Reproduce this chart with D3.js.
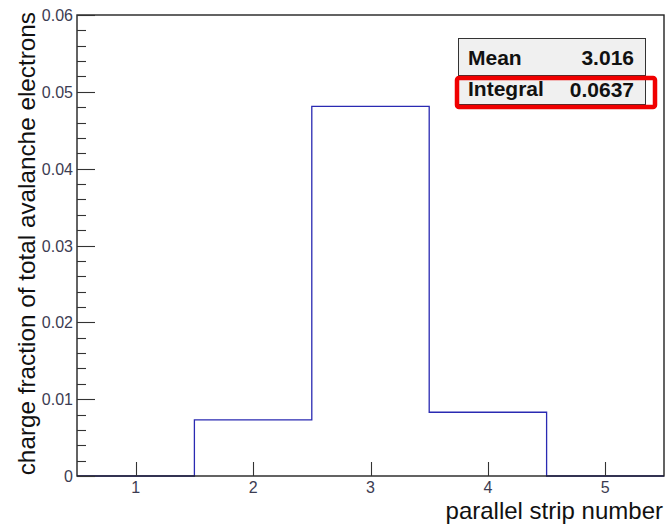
<!DOCTYPE html>
<html>
<head>
<meta charset="utf-8">
<script src="https://cdn.jsdelivr.net/npm/d3@7"></script>
<style>
  html, body { margin: 0; padding: 0; background: #fff; }
  svg { display: block; font-family: Arial, "Liberation Sans", sans-serif; }
</style>
</head>
<body>
<svg id="chart" width="667" height="525"></svg>
<script>
// Strip histogram: bins centred on the strip numbers
const binCenters = [1, 2, 3, 4, 5];
const binValues = [0, 0.0073, 0.0481, 0.0083, 0];
const xTicks = [1, 2, 3, 4, 5];
const yTicks = [0, 0.01, 0.02, 0.03, 0.04, 0.05, 0.06];
const statNames = ["Mean", "Integral"];
const statValues = ["3.016", "0.0637"];

const svg = d3.select("#chart");
const frameL = 77, frameR = 664, frameT = 15, frameB = 476;

const x = d3.scaleLinear().domain([0.5, 5.5]).range([frameL, frameR]);
const y = d3.scaleLinear().domain([0, 0.06]).range([frameB, frameT]);

// step outline of the histogram
const pts = [];
binCenters.forEach((c, i) => {
  pts.push([c - 0.5, binValues[i]]);
  pts.push([c + 0.5, binValues[i]]);
});
const line = d3.line().x(d => x(d[0])).y(d => y(d[1]));
svg.append("path")
  .attr("d", line(pts))
  .attr("fill", "none")
  .attr("stroke", "#2a2ab2")
  .attr("stroke-width", 1.3);

// frame
svg.append("rect")
  .attr("x", frameL).attr("y", frameT)
  .attr("width", frameR - frameL).attr("height", frameB - frameT)
  .attr("fill", "none").attr("stroke", "#222").attr("stroke-width", 1.4);

// y axis: major and minor ticks
const yMinor = d3.range(0, 0.0601, 0.002);
svg.append("g").selectAll("line").data(yMinor).join("line")
  .attr("x1", frameL).attr("x2", (d, i) => frameL + (i % 5 === 0 ? 18 : 9))
  .attr("y1", d => Math.round(y(d)) + 0.5).attr("y2", d => Math.round(y(d)) + 0.5)
  .attr("stroke", "#333").attr("stroke-width", 1.1);

svg.append("g").selectAll("text").data(yTicks).join("text")
  .attr("x", frameL - 4).attr("y", d => y(d) + 6)
  .attr("text-anchor", "end")
  .attr("font-size", 16).attr("fill", "#3c3c52")
  .text(d => d === 0 ? "0" : d3.format(".2f")(d));

// x axis ticks
svg.append("g").selectAll("line").data(xTicks).join("line")
  .attr("x1", d => Math.round(x(d)) + 0.5).attr("x2", d => Math.round(x(d)) + 0.5)
  .attr("y1", frameB).attr("y2", frameB - 14)
  .attr("stroke", "#333").attr("stroke-width", 1.1);

svg.append("g").selectAll("text").data(xTicks).join("text")
  .attr("x", d => x(d)).attr("y", frameB + 17)
  .attr("text-anchor", "middle")
  .attr("font-size", 16).attr("fill", "#3c3c52")
  .text(d => d);

// axis titles
svg.append("text")
  .attr("x", frameR - 1).attr("y", 519)
  .attr("text-anchor", "end")
  .attr("font-size", 24).attr("fill", "#111")
  .text("parallel strip number");

svg.append("text")
  .attr("transform", `translate(35, 12) rotate(-90)`)
  .attr("text-anchor", "end")
  .attr("font-size", 24.3).attr("fill", "#111")
  .text("charge fraction of total avalanche electrons");

// statistics box
const bx = 458, by = 38, bw = 187, rowH = 37;
svg.append("rect")
  .attr("x", bx + 0.5).attr("y", by + 0.5)
  .attr("width", bw).attr("height", 66)
  .attr("fill", "#f0f0f0").attr("stroke", "#333").attr("stroke-width", 1);
svg.append("line")
  .attr("x1", bx).attr("x2", bx + bw)
  .attr("y1", by + rowH + 0.5).attr("y2", by + rowH + 0.5)
  .attr("stroke", "#333").attr("stroke-width", 1);

const rowBase = [65, 96];
const rows = svg.append("g").selectAll("g").data(statNames).join("g");
rows.append("text")
  .attr("x", bx + 10).attr("y", (d, i) => rowBase[i])
  .attr("font-size", 21).attr("font-weight", "bold").attr("fill", "#111")
  .text(d => d);
rows.append("text")
  .attr("x", bx + bw - 11).attr("y", (d, i) => rowBase[i] + i)
  .attr("text-anchor", "end")
  .attr("font-size", 21).attr("font-weight", "bold").attr("fill", "#111")
  .text((d, i) => statValues[i]);

// highlight around the Integral row
svg.append("rect")
  .attr("x", 457).attr("y", 78)
  .attr("width", 198).attr("height", 29)
  .attr("rx", 2)
  .attr("fill", "none").attr("stroke", "#f00000").attr("stroke-width", 4.5);
</script>
</body>
</html>
